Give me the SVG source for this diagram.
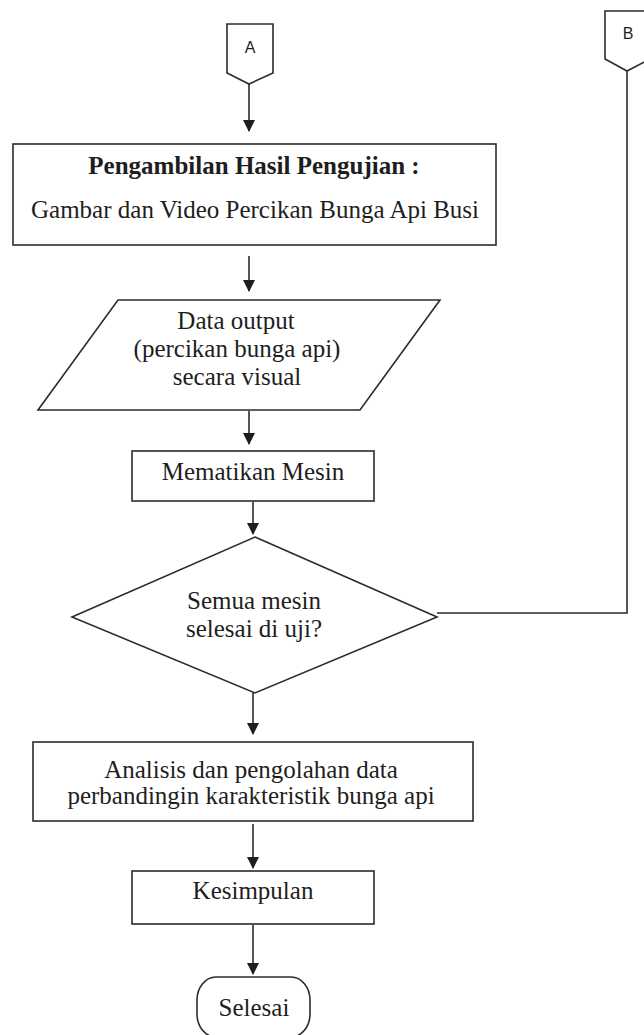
<svg xmlns="http://www.w3.org/2000/svg" width="644" height="1035" viewBox="0 0 644 1035">
  <style>
    .shape { fill: #ffffff; stroke: #2b2b2b; stroke-width: 1.6; }
    .edge { fill: none; stroke: #2b2b2b; stroke-width: 1.6; }
    .t { font-family: "Liberation Serif", "Times New Roman", serif; font-size: 25px; fill: #1e1e1e; text-anchor: middle; }
    .b { font-weight: bold; }
    .c { font-family: "Liberation Sans", Arial, sans-serif; font-size: 16px; fill: #1e1e1e; text-anchor: middle; }
  </style>
  <defs>
    <marker id="arrow" markerWidth="12" markerHeight="12" refX="11" refY="6" orient="auto" markerUnits="userSpaceOnUse">
      <path d="M0,0 L12,6 L0,12 Z" fill="#1e1e1e"/>
    </marker>
  </defs>
  <rect width="644" height="1035" fill="#ffffff"/>

  <!-- off-page connector A -->
  <g id="conn-a">
    <path class="shape" d="M227,24 H273 V73 L249,84 L227,73 Z"/>
    <text class="c" x="250" y="53">A</text>
  </g>

  <!-- off-page connector B -->
  <g id="conn-b">
    <path class="shape" d="M605,11 H650 V59 L627,71 L605,59 Z"/>
    <text class="c" x="628" y="39">B</text>
  </g>

  <g id="hasil">
    <rect class="shape" x="13" y="144" width="483" height="101"/>
    <text class="t b" x="254" y="174">Pengambilan Hasil Pengujian :</text>
    <text class="t" x="255" y="218">Gambar dan Video Percikan Bunga Api Busi</text>
  </g>

  <g id="data-output">
    <path class="shape" d="M118,300 H440 L360,410 H38 Z"/>
    <text class="t" x="236" y="329">Data output</text>
    <text class="t" x="237" y="357">(percikan bunga api)</text>
    <text class="t" x="237" y="385">secara visual</text>
  </g>

  <g id="mematikan">
    <rect class="shape" x="132" y="451" width="242" height="50"/>
    <text class="t" x="253" y="480">Mematikan Mesin</text>
  </g>

  <g id="keputusan">
    <path class="shape" d="M255,537 L437,617 L255,693 L72,617 Z"/>
    <text class="t" x="254" y="609">Semua mesin</text>
    <text class="t" x="254" y="637">selesai di uji?</text>
  </g>

  <g id="analisis">
    <rect class="shape" x="33" y="742" width="440" height="79"/>
    <text class="t" x="251" y="778">Analisis dan pengolahan data</text>
    <text class="t" x="251" y="804">perbandingin karakteristik bunga api</text>
  </g>

  <g id="kesimpulan">
    <rect class="shape" x="132" y="871" width="242" height="53"/>
    <text class="t" x="253" y="899">Kesimpulan</text>
  </g>

  <g id="selesai">
    <rect class="shape" x="197" y="977" width="113" height="60" rx="19" ry="23"/>
    <text class="t" x="254" y="1016">Selesai</text>
  </g>

  <g id="connectors">
    <line class="edge" x1="249" y1="84" x2="249" y2="131" marker-end="url(#arrow)"/>
    <line class="edge" x1="249" y1="256" x2="249" y2="291" marker-end="url(#arrow)"/>
    <line class="edge" x1="249" y1="411" x2="249" y2="444" marker-end="url(#arrow)"/>
    <line class="edge" x1="253" y1="502" x2="253" y2="534" marker-end="url(#arrow)"/>
    <line class="edge" x1="253" y1="693" x2="253" y2="734" marker-end="url(#arrow)"/>
    <line class="edge" x1="253" y1="824" x2="253" y2="868" marker-end="url(#arrow)"/>
    <line class="edge" x1="253" y1="925" x2="253" y2="974" marker-end="url(#arrow)"/>
    <polyline class="edge" points="627,71 627,613 437,613"/>
  </g>
</svg>
